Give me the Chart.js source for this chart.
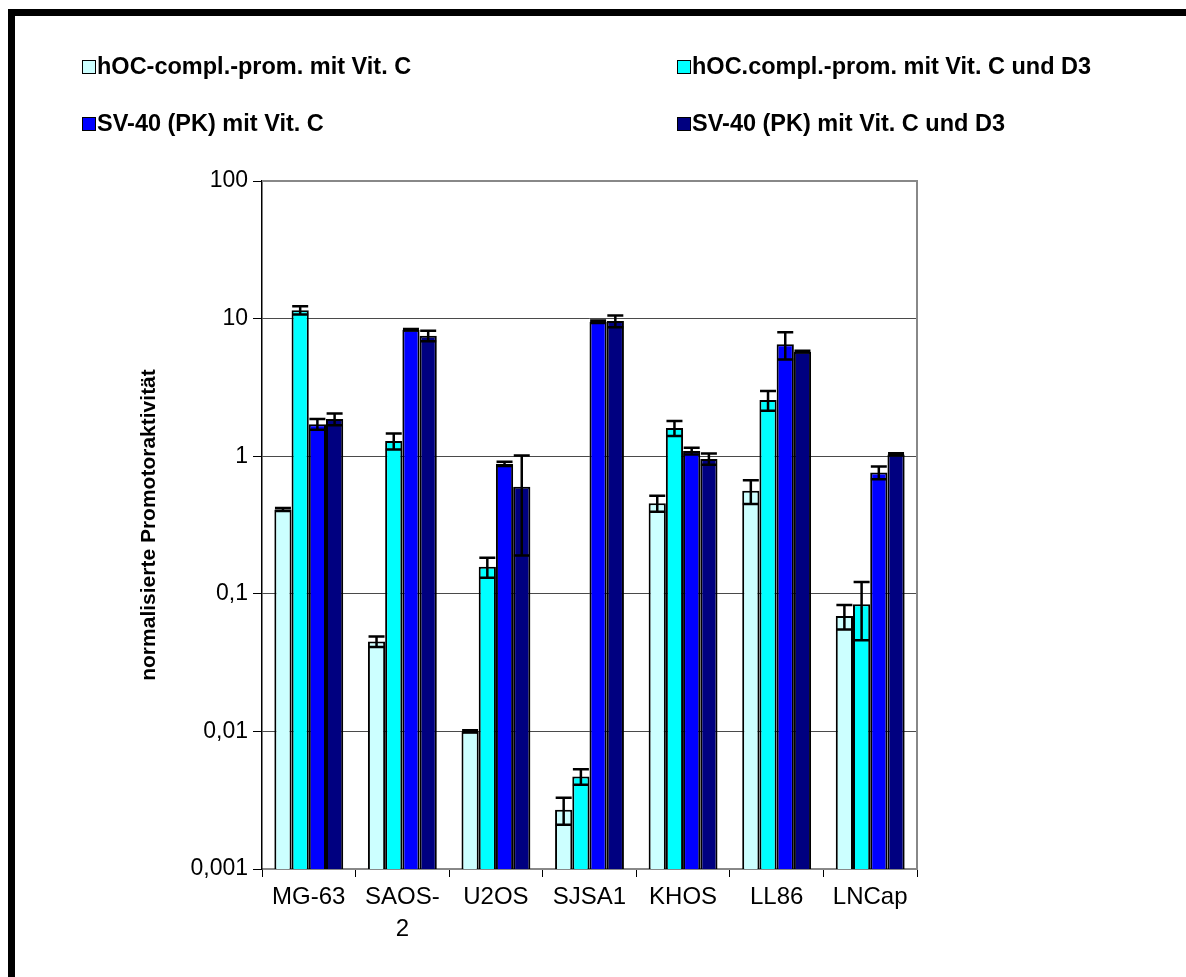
<!DOCTYPE html>
<html>
<head>
<meta charset="utf-8">
<script src="https://cdn.jsdelivr.net/npm/chart.js@4.4.1/dist/chart.umd.min.js"></script>
<style>
  body { margin: 0; background: #fff; }
  #wrap { position: relative; width: 1186px; height: 977px; overflow: hidden; }
  #frame { position: absolute; left: 8px; top: 9px; width: 1200px; height: 1000px;
           border-left: 7px solid #000; border-top: 7px solid #000; }
  canvas { position: absolute; left: 0; top: 0; }
  .key { position: absolute; width: 12px; height: 12px; border: 1.5px solid #000; }
  .lab { position: absolute; font: bold 23.5px "Liberation Sans", Arial, sans-serif;
         line-height: 1; white-space: nowrap; color: #000; }
</style>
</head>
<body>
<div id="wrap">
  <canvas id="promChart" width="1186" height="977"></canvas>
  <div id="legend"></div>
  <div id="frame"></div>
</div>
<script>
var categories = ["MG-63", ["SAOS-", "2"], "U2OS", "SJSA1", "KHOS", "LL86", "LNCap"];
var seriesNames = [
    "hOC-compl.-prom. mit Vit. C",
    "hOC.compl.-prom. mit Vit. C und D3",
    "SV-40 (PK) mit Vit. C",
    "SV-40 (PK) mit Vit. C und D3"
];
var seriesColors = ["#CCFFFF", "#00FFFF", "#0000FF", "#000080"];

var hocC   = [0.41, 0.045, 0.01, 0.0027, 0.455, 0.56, 0.069];
var hocCD3 = [11.5, 1.29, 0.157, 0.0047, 1.6, 2.56, 0.084];
var svC    = [1.71, 8.3, 0.88, 9.5, 1.09, 6.5, 0.76];
var svCD3  = [1.86, 7.5, 0.6, 9.6, 0.955, 5.75, 1.03];

var hocCErr   = [0.01, 0.004, 0.0002, 0.0006, 0.06, 0.11, 0.014];
var hocCD3Err = [0.8, 0.17, 0.026, 0.0006, 0.2, 0.42, 0.038];
var svCErr    = [0.15, 0.1, 0.03, 0.2, 0.06, 1.45, 0.08];
var svCD3Err  = [0.18, 0.65, 0.41, 0.95, 0.09, 0.08, 0.02];

var tickValues = [0.001, 0.01, 0.1, 1, 10, 100];
var tickLabels = ["0,001", "0,01", "0,1", "1", "10", "100"];

var values = [hocC, hocCD3, svC, svCD3];
var errors = [hocCErr, hocCD3Err, svCErr, svCD3Err];

// legend, 2 columns
var leg = document.getElementById('legend');
var colX = [82, 677];
var rowY = [60, 117];
seriesNames.forEach(function (name, i) {
    var c = i % 2, r = Math.floor(i / 2);
    var k = document.createElement('div');
    k.className = 'key';
    k.style.left = colX[c] + 'px';
    k.style.top = rowY[r] + 'px';
    k.style.background = seriesColors[i];
    leg.appendChild(k);
    var t = document.createElement('div');
    t.className = 'lab';
    t.textContent = name;
    t.style.left = (colX[c] + 15) + 'px';
    t.style.top = (rowY[r] - 5) + 'px';
    leg.appendChild(t);
});

var errorBars = {
    id: 'errorBars',
    afterDatasetsDraw: function (chart) {
        var ctx = chart.ctx, y = chart.scales.y;
        ctx.save();
        ctx.strokeStyle = '#000';
        ctx.lineWidth = 2.5;
        chart.data.datasets.forEach(function (ds, di) {
            var meta = chart.getDatasetMeta(di);
            meta.data.forEach(function (bar, i) {
                var v = ds.data[i], e = ds.errors[i];
                var top = y.getPixelForValue(v + e);
                var bot = y.getPixelForValue(Math.max(v - e, 0.0011));
                ctx.beginPath();
                ctx.moveTo(bar.x, top); ctx.lineTo(bar.x, bot);
                ctx.moveTo(bar.x - 8, top); ctx.lineTo(bar.x + 8, top);
                ctx.moveTo(bar.x - 8, bot); ctx.lineTo(bar.x + 8, bot);
                ctx.stroke();
            });
        });
        ctx.restore();
    }
};

var plotFrame = {
    id: 'plotFrame',
    beforeDatasetsDraw: function (chart) {
        var a = chart.chartArea, ctx = chart.ctx;
        ctx.save();
        ctx.strokeStyle = '#888';
        ctx.lineWidth = 2;
        ctx.beginPath();
        ctx.moveTo(a.left, a.top); ctx.lineTo(a.right, a.top); ctx.lineTo(a.right, a.bottom);
        ctx.stroke();
        ctx.restore();
    }
};

var datasets = values.map(function (v, i) {
    return {
        label: seriesNames[i],
        data: v,
        errors: errors[i],
        backgroundColor: seriesColors[i],
        borderColor: '#000',
        borderWidth: 2,
        categoryPercentage: 0.736,
        barPercentage: 1
    };
});

Chart.defaults.font.family = '"Liberation Sans", Arial, sans-serif';
Chart.defaults.color = '#000';

new Chart(document.getElementById('promChart'), {
    type: 'bar',
    data: { labels: categories, datasets: datasets },
    plugins: [errorBars, plotFrame],
    options: {
        responsive: false,
        animation: false,
        layout: { padding: { left: 137, top: 181, right: 269, bottom: 0 } },
        plugins: { legend: { display: false }, tooltip: { enabled: false } },
        scales: {
            x: {
                grid: { drawOnChartArea: false, tickLength: 8, color: '#000' },
                border: { color: '#888', width: 2 },
                ticks: { font: { size: 24, lineHeight: 1.35 }, padding: 4, maxRotation: 0, autoSkip: false },
                afterFit: function (s) { s.height = 108; }
            },
            y: {
                type: 'logarithmic',
                min: 0.001,
                max: 100,
                afterBuildTicks: function (s) {
                    s.ticks = tickValues.map(function (v) { return { value: v }; });
                },
                ticks: {
                    font: { size: 23 },
                    padding: 5,
                    callback: function (v) {
                        var i = tickValues.indexOf(v);
                        return i >= 0 ? tickLabels[i] : '';
                    }
                },
                grid: { color: '#4a4a4a', lineWidth: 1, tickLength: 9, tickColor: '#000' },
                border: { color: '#000', width: 1.5 },
                title: {
                    display: true,
                    text: 'normalisierte Promotoraktivität',
                    font: { size: 21, weight: 'bold' },
                    padding: 0
                },
                afterFit: function (s) { s.width = 125; }
            }
        }
    }
});
</script>
</body>
</html>
